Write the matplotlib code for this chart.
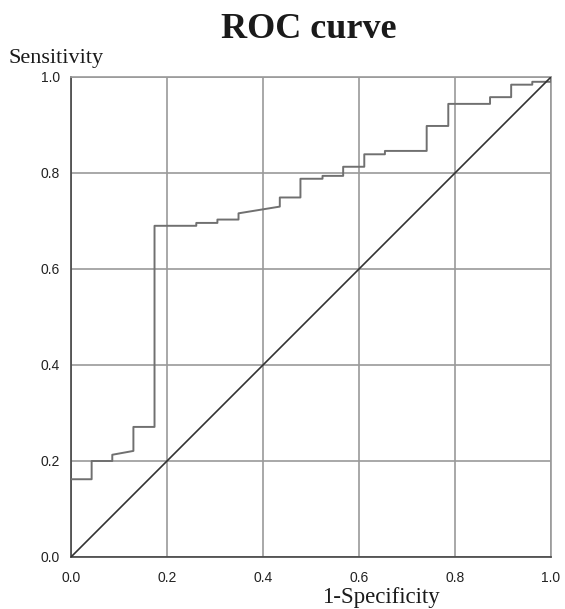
import matplotlib
matplotlib.use("Agg")
import matplotlib.pyplot as plt

# ROC step curve (1-specificity, sensitivity)
fpr = [0.0, 0.0, 0.043, 0.043, 0.086, 0.086, 0.130, 0.130, 0.174, 0.174,
       0.261, 0.261, 0.305, 0.305, 0.349, 0.349, 0.435, 0.435, 0.478, 0.478,
       0.524, 0.524, 0.567, 0.567, 0.611, 0.611, 0.654, 0.654, 0.741, 0.741,
       0.786, 0.786, 0.873, 0.873, 0.917, 0.917, 0.961, 0.961, 1.0, 1.0]
tpr = [0.0, 0.162, 0.162, 0.200, 0.200, 0.213, 0.221, 0.271, 0.271, 0.690,
       0.690, 0.696, 0.696, 0.703, 0.703, 0.716, 0.730, 0.749, 0.749, 0.788,
       0.788, 0.794, 0.794, 0.813, 0.813, 0.839, 0.839, 0.846, 0.846, 0.898,
       0.898, 0.944, 0.944, 0.958, 0.958, 0.984, 0.984, 0.990, 0.990, 1.0]
ref_x = [0.0, 1.0]
ref_y = [0.0, 1.0]
ticks = [0.0, 0.2, 0.4, 0.6, 0.8, 1.0]
tick_labels = ["0.0", "0.2", "0.4", "0.6", "0.8", "1.0"]

fig = plt.figure(figsize=(5.65, 6.09), dpi=100)
ax = fig.add_axes([71/565, 1-557/609, 480/565, 480/609])

ax.plot(fpr[1:], tpr[1:], color="#707070", lw=1.4, zorder=3)
ax.plot(ref_x, ref_y, color="#333333", lw=1.2, zorder=3)

ax.set_xlim(0, 1)
ax.set_ylim(0, 1)
ax.set_xticks(ticks)
ax.set_yticks(ticks)
ax.set_xticklabels(tick_labels, fontsize=10, family="Liberation Sans", color="#222222")
ax.set_yticklabels(tick_labels, fontsize=10, family="Liberation Sans", color="#222222")
ax.tick_params(length=0)
ax.tick_params(axis="x", pad=10)
ax.tick_params(axis="y", pad=8)
ax.grid(True, color="#9a9a9a", lw=1.2)
ax.set_axisbelow(True)
for s in ["top", "right"]:
    ax.spines[s].set_color("#9a9a9a")
    ax.spines[s].set_linewidth(1.2)
for s in ["left", "bottom"]:
    ax.spines[s].set_color("#444444")
    ax.spines[s].set_linewidth(1.2)

fig.text(309/565, 1-29/609, "ROC curve", ha="center", va="center",
         family="Liberation Serif", fontweight="bold", fontsize=26, color="#1a1a1a")
fig.text(9/565, 1-58/609, "Sensitivity", ha="left", va="center",
         family="Liberation Serif", fontsize=16, color="#1a1a1a")
fig.text(381/565, 1-598/609, "1-Specificity", ha="center", va="center",
         family="Liberation Serif", fontsize=16.5, color="#1a1a1a")

fig.savefig("out.png", dpi=100)
